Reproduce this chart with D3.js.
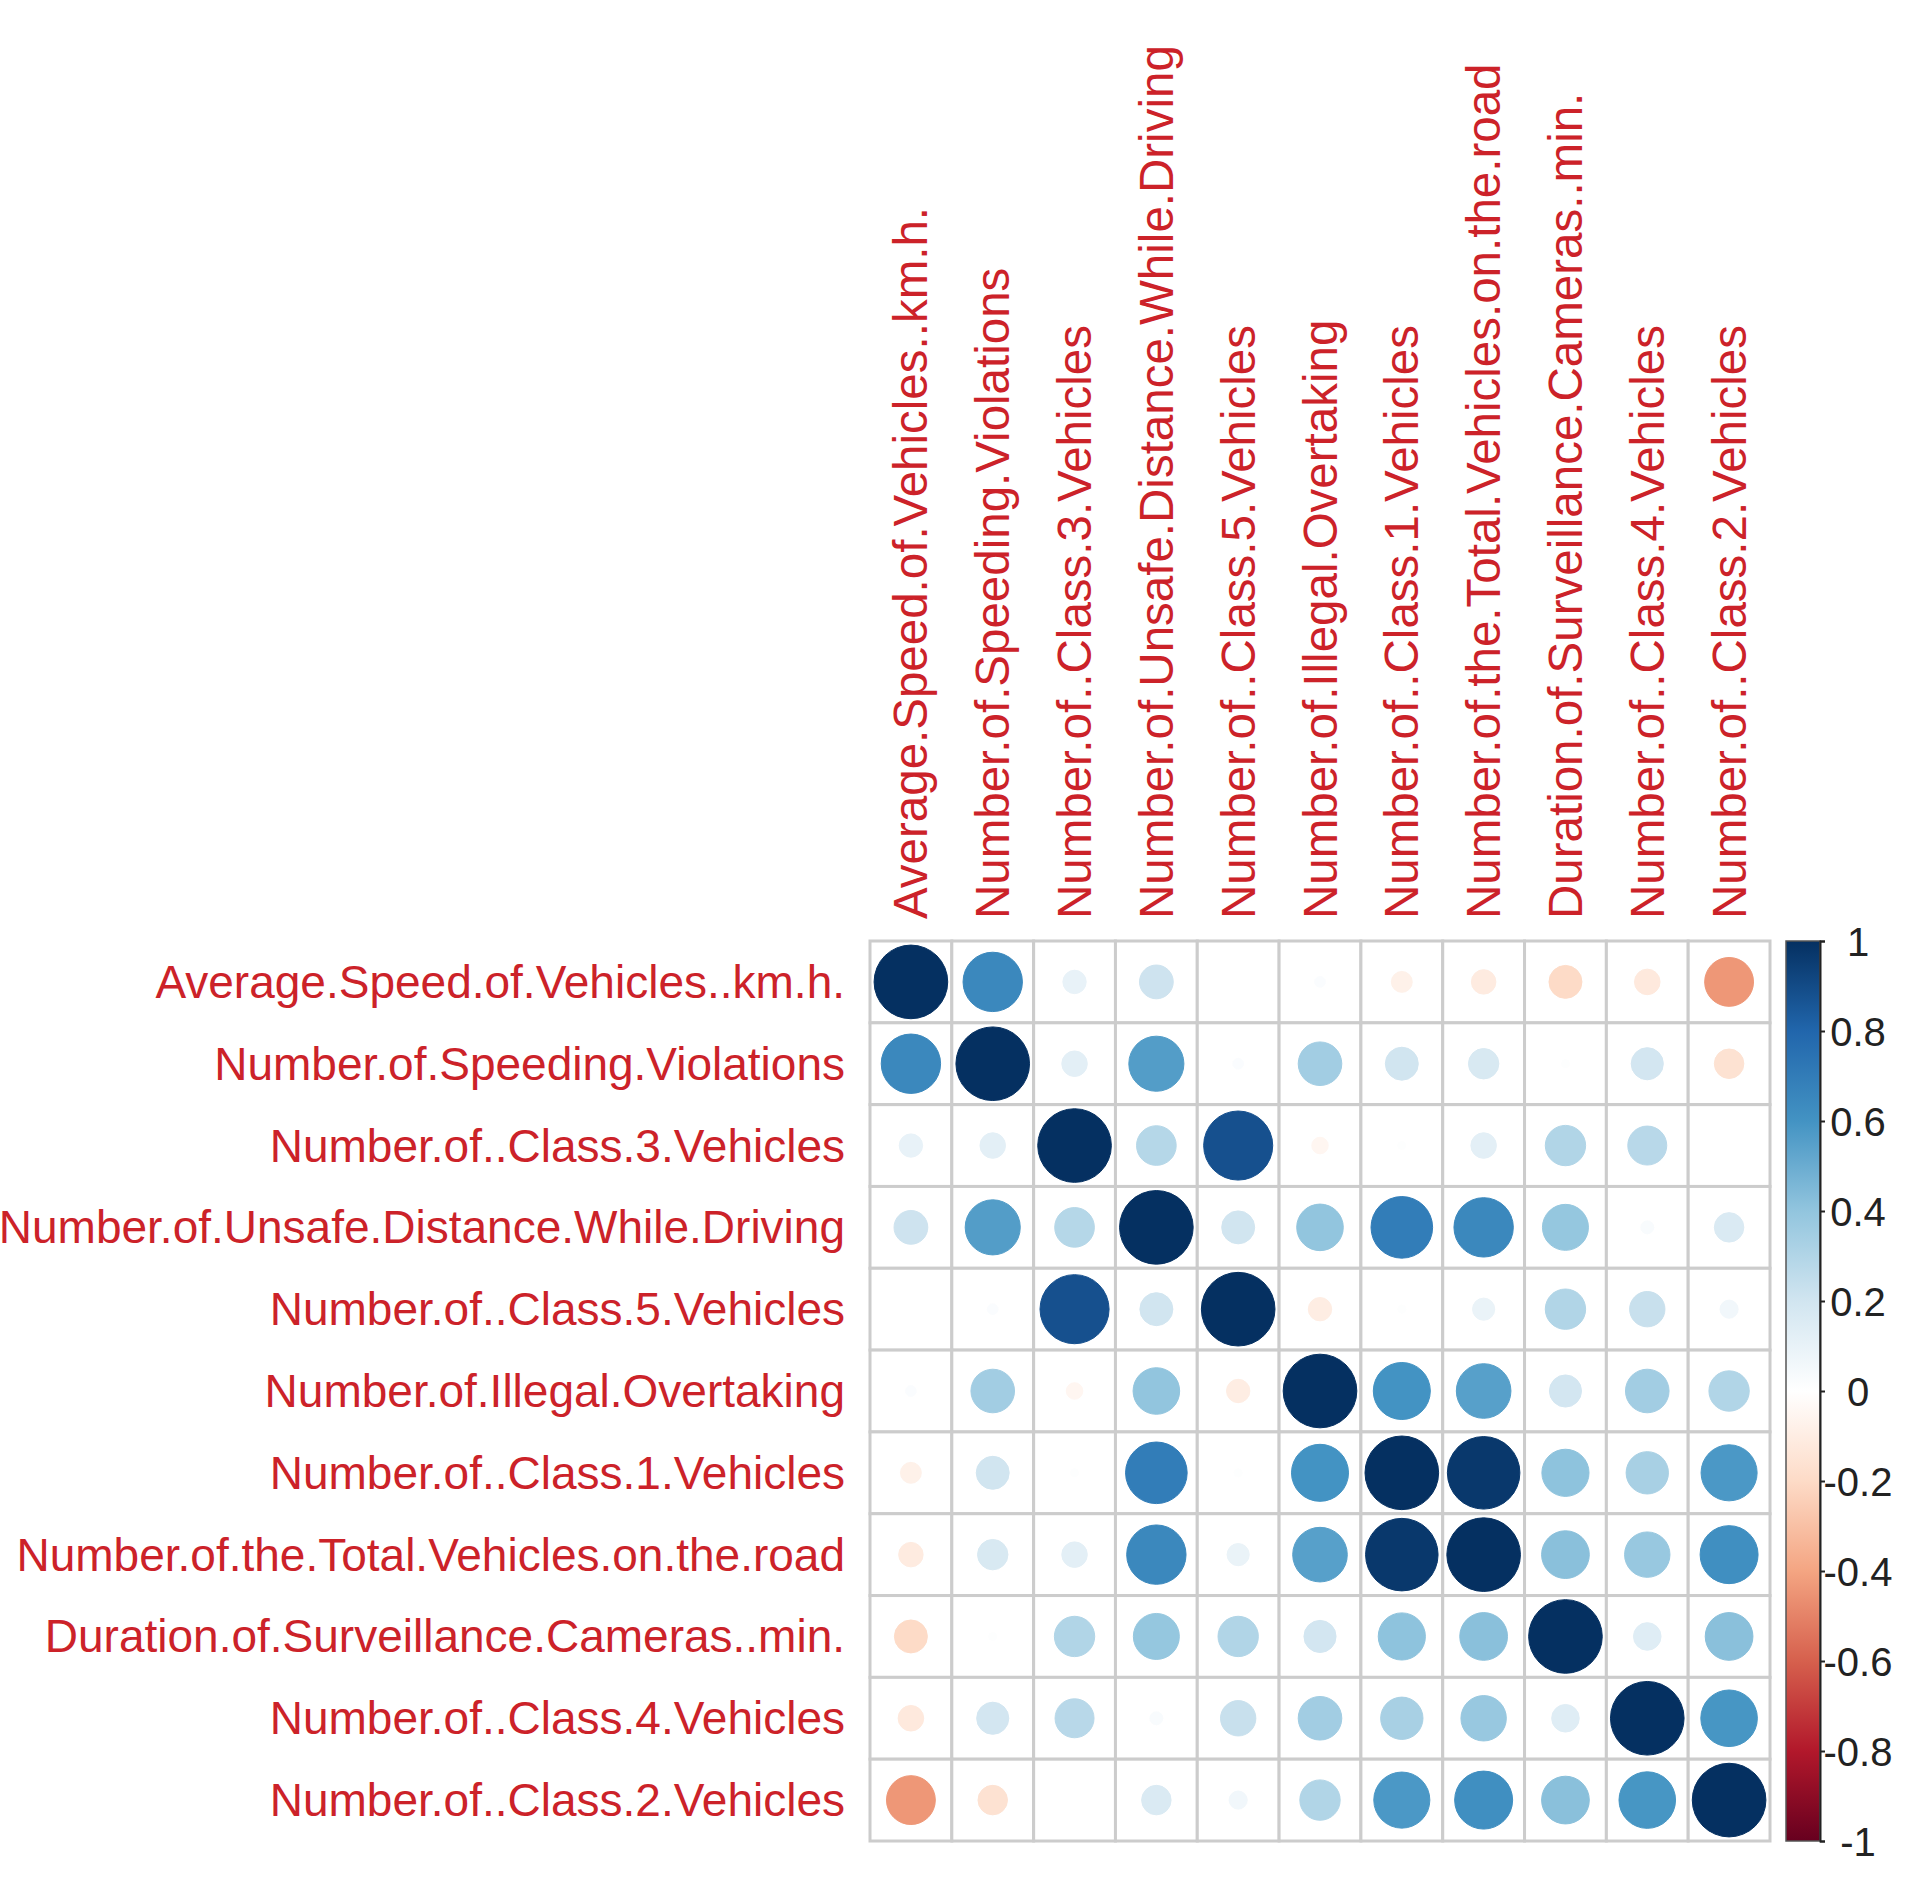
<!DOCTYPE html>
<html>
<head>
<meta charset="utf-8">
<script src="https://cdn.jsdelivr.net/npm/d3@7"></script>
<style>
  body { margin: 0; background: #fff; }
  svg { display: block; font-family: "Liberation Sans", Arial, sans-serif; }
</style>
</head>
<body>
<div id="chart-area"></div>
<script>
// variable names (same order for rows and columns)
const variables = [
  "Average.Speed.of.Vehicles..km.h.",
  "Number.of.Speeding.Violations",
  "Number.of..Class.3.Vehicles",
  "Number.of.Unsafe.Distance.While.Driving",
  "Number.of..Class.5.Vehicles",
  "Number.of.Illegal.Overtaking",
  "Number.of..Class.1.Vehicles",
  "Number.of.the.Total.Vehicles.on.the.road",
  "Duration.of.Surveillance.Cameras..min.",
  "Number.of..Class.4.Vehicles",
  "Number.of..Class.2.Vehicles"
];

// correlation matrix, one row per variable
const corr = [
  [1, 0.65, 0.10, 0.21, 0.00, 0.02, -0.08, -0.11, -0.20, -0.12, -0.44],
  [0.65, 1, 0.12, 0.56, 0.02, 0.35, 0.20, 0.17, 0.01, 0.19, -0.16],
  [0.10, 0.12, 1, 0.29, 0.88, -0.05, 0.01, 0.12, 0.30, 0.28, 0.00],
  [0.21, 0.56, 0.29, 1, 0.20, 0.40, 0.70, 0.65, 0.39, 0.03, 0.16],
  [0.00, 0.02, 0.88, 0.20, 1, -0.10, 0.01, 0.09, 0.30, 0.23, 0.06],
  [0.02, 0.35, -0.05, 0.40, -0.10, 1, 0.60, 0.55, 0.19, 0.35, 0.30],
  [-0.08, 0.20, 0.01, 0.70, 0.01, 0.60, 1, 0.97, 0.41, 0.33, 0.58],
  [-0.11, 0.17, 0.12, 0.65, 0.09, 0.55, 0.97, 1, 0.42, 0.38, 0.62],
  [-0.20, 0.01, 0.30, 0.39, 0.30, 0.19, 0.41, 0.42, 1, 0.14, 0.42],
  [-0.12, 0.19, 0.28, 0.03, 0.23, 0.35, 0.33, 0.38, 0.14, 1, 0.59],
  [-0.44, -0.16, 0.00, 0.16, 0.06, 0.30, 0.58, 0.62, 0.42, 0.59, 1]
];

// colour bar tick labels
const legendTicks = [1, 0.8, 0.6, 0.4, 0.2, 0, -0.2, -0.4, -0.6, -0.8, -1];

// RdBu palette used by corrplot (from -1 to 1)
const palette = ["#67001F", "#B2182B", "#D6604D", "#F4A582", "#FDDBC7", "#FFFFFF",
                 "#D1E5F0", "#92C5DE", "#4393C3", "#2166AC", "#053061"];

const width = 1913, height = 1880;
const gridLeft = 870, gridTop = 941, gridSize = 900;

const svg = d3.select("#chart-area").append("svg")
  .attr("width", width)
  .attr("height", height);

svg.append("rect").attr("width", width).attr("height", height).attr("fill", "#fff");

const x = d3.scaleBand().domain(variables).range([gridLeft, gridLeft + gridSize]);
const y = d3.scaleBand().domain(variables).range([gridTop, gridTop + gridSize]);

const color = d3.scaleLinear()
  .domain(d3.range(palette.length).map(i => -1 + 2 * i / (palette.length - 1)))
  .range(palette);

// flatten into cells
const cells = [];
corr.forEach((row, i) => {
  row.forEach((v, j) => {
    cells.push({ row: variables[i], col: variables[j], value: v });
  });
});

const g = svg.append("g");

// cell backgrounds / grid
g.selectAll("rect.cell")
  .data(cells)
  .enter()
  .append("rect")
  .attr("class", "cell")
  .attr("x", d => x(d.col))
  .attr("y", d => y(d.row))
  .attr("width", x.bandwidth())
  .attr("height", y.bandwidth())
  .attr("fill", "#fff")
  .attr("stroke", "#cccccc")
  .attr("stroke-width", 3);

// circles, radius ~ sqrt(|r|)
g.selectAll("circle")
  .data(cells)
  .enter()
  .append("circle")
  .attr("cx", d => x(d.col) + x.bandwidth() / 2)
  .attr("cy", d => y(d.row) + y.bandwidth() / 2)
  .attr("r", d => 0.45 * x.bandwidth() * Math.sqrt(Math.abs(d.value)))
  .attr("fill", d => color(d.value))
  .attr("stroke", d => color(d.value))
  .attr("stroke-width", 1);

// row labels
svg.append("g").selectAll("text")
  .data(variables)
  .enter()
  .append("text")
  .attr("x", gridLeft - 25)
  .attr("y", d => y(d) + y.bandwidth() / 2)
  .attr("text-anchor", "end")
  .attr("dominant-baseline", "central")
  .attr("font-size", 46)
  .attr("fill", "#cc2229")
  .text(d => d);

// column labels, rotated
svg.append("g").selectAll("text")
  .data(variables)
  .enter()
  .append("text")
  .attr("transform", d => "translate(" + (x(d) + x.bandwidth() / 2) + "," + (gridTop - 22) + ") rotate(-90)")
  .attr("text-anchor", "start")
  .attr("dominant-baseline", "central")
  .attr("font-size", 47.5)
  .attr("fill", "#cc2229")
  .text(d => d);

// colour legend
const legendX = 1786, legendW = 34;
const legendScale = d3.scaleLinear().domain([-1, 1]).range([gridTop + gridSize, gridTop]);

const defs = svg.append("defs");
const grad = defs.append("linearGradient")
  .attr("id", "corrGrad")
  .attr("x1", 0).attr("y1", 1).attr("x2", 0).attr("y2", 0);
palette.forEach((c, i) => {
  grad.append("stop")
    .attr("offset", (i / (palette.length - 1) * 100) + "%")
    .attr("stop-color", c);
});

svg.append("rect")
  .attr("x", legendX)
  .attr("y", legendScale(1))
  .attr("width", legendW)
  .attr("height", legendScale(-1) - legendScale(1))
  .attr("fill", "url(#corrGrad)")
  .attr("stroke", "#555")
  .attr("stroke-width", 1.5);

const legendAxis = svg.append("g")
  .attr("transform", "translate(" + (legendX + legendW) + ",0)")
  .call(d3.axisRight(legendScale)
    .tickValues(legendTicks)
    .tickSize(5)
    .tickFormat(d => String(d)));

legendAxis.select(".domain").attr("stroke", "#222").attr("stroke-width", 2);
legendAxis.selectAll(".tick line").attr("stroke", "#222").attr("stroke-width", 2);
legendAxis.selectAll(".tick text")
  .attr("x", 38)
  .attr("dy", "0.35em")
  .attr("text-anchor", "middle")
  .attr("font-size", 40)
  .attr("font-family", "Liberation Sans, Arial, sans-serif")
  .attr("fill", "#222");
</script>
</body>
</html>
